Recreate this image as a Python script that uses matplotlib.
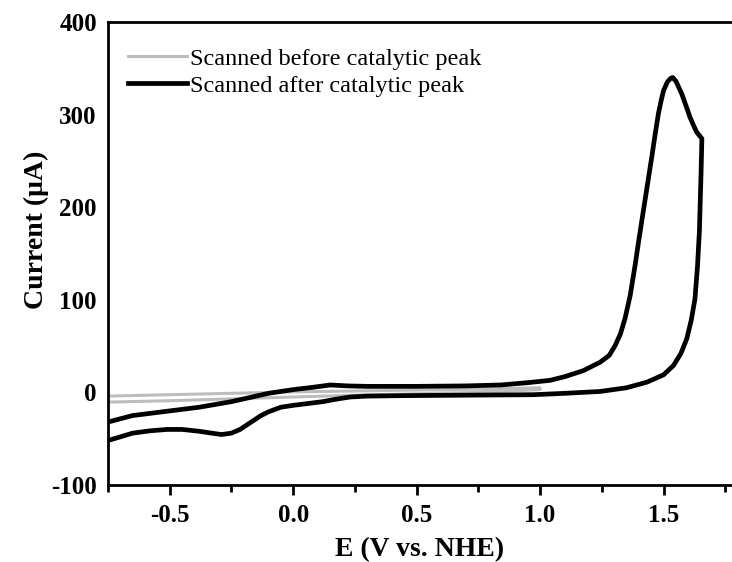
import matplotlib.pyplot as plt
from matplotlib.ticker import MultipleLocator

# Cyclic voltammogram scanned before the catalytic peak (grey)
before_fwd_E = [-0.75, -0.5, -0.25, 0.0, 0.25, 0.5, 0.75, 1.0]
before_fwd_I = [-4, -2.5, -1, 0.5, 1.5, 2.5, 3.5, 5]
before_rev_E = [1.0, 0.75, 0.5, 0.25, 0.0, -0.25, -0.5, -0.75]
before_rev_I = [3, 0, -1.5, -3, -5, -7, -9, -10.5]

# Cyclic voltammogram scanned after the catalytic peak (black)
after_fwd_E = [-0.75, -0.65, -0.5, -0.38, -0.25, -0.1, 0.0, 0.08, 0.15, 0.22,
               0.3, 0.5, 0.7, 0.84, 0.95, 1.04, 1.1, 1.175, 1.243, 1.28,
               1.304, 1.325, 1.344, 1.365, 1.385, 1.40, 1.418, 1.435, 1.452,
               1.466, 1.479, 1.49, 1.50, 1.515, 1.528, 1.537, 1.55, 1.562,
               1.574, 1.59, 1.607, 1.62, 1.634, 1.655]
after_fwd_I = [-32, -25, -20, -16, -10, -1, 3, 5.5, 8, 7,
               6.5, 6.5, 7, 8, 10.5, 13, 17, 23.5, 32.6, 40,
               50.7, 63, 80, 105, 138, 165, 196, 225, 254,
               279, 301, 315, 326, 335, 339, 340, 336, 329,
               322, 310, 297, 289, 281, 274]
after_rev_E = [1.655, 1.652, 1.645, 1.637, 1.627, 1.612, 1.594, 1.57, 1.54,
               1.5, 1.432, 1.35, 1.243, 1.1, 0.973, 0.7, 0.45, 0.3, 0.23,
               0.17, 0.12, 0.06, 0.0, -0.05, -0.1, -0.13, -0.17, -0.215,
               -0.25, -0.29, -0.33, -0.38, -0.45, -0.51, -0.58, -0.65, -0.75]
after_rev_I = [274, 240, 174, 135, 101, 78, 58, 42, 29,
               19, 11, 5, 1, -1, -2.5, -3, -3.5, -4, -5,
               -7.5, -10, -12, -14, -16, -21, -25, -32, -40,
               -44, -45.5, -44, -42, -40, -40, -41.5, -44, -52]

plt.rcParams['font.family'] = 'Liberation Serif'
plt.rcParams['axes.unicode_minus'] = False

fig = plt.figure(figsize=(7.32, 5.62), dpi=100)
ax = fig.add_axes([0.1475, 0.137, 0.8525, 0.824])

ax.plot(before_fwd_E + before_rev_E, before_fwd_I + before_rev_I,
        color='#bdbdbd', lw=2.2, label='Scanned before catalytic peak')
ax.plot(after_fwd_E + after_rev_E, after_fwd_I + after_rev_I,
        color='black', lw=3.4, label='Scanned after catalytic peak')

ax.set_xlim(-0.75, 1.777)
ax.set_ylim(-100, 400)
ax.xaxis.set_minor_locator(MultipleLocator(0.25))
ax.yaxis.set_major_locator(MultipleLocator(100))
ax.set_xticks([-0.5, 0.0, 0.5, 1.0, 1.5])
ax.set_xticklabels(['-0.5', '0.0', '0.5', '1.0', '1.5'])

ax.spines['right'].set_visible(False)
for side in ['left', 'bottom', 'top']:
    ax.spines[side].set_linewidth(2.0)

ax.tick_params(axis='x', which='major', direction='out', length=7, width=2,
               pad=7, labelsize=18)
ax.tick_params(axis='x', which='minor', direction='out', length=5, width=2)
ax.tick_params(axis='y', which='both', length=0, pad=8, labelsize=18)
for lab in ax.get_xticklabels() + ax.get_yticklabels():
    lab.set_fontweight('bold')

ax.set_xlabel('E (V vs. NHE)', fontsize=20, fontweight='bold')
ax.set_ylabel('Current (μA)', fontsize=20, fontweight='bold')
ax.xaxis.set_label_coords(0.5, -0.112)
ax.yaxis.set_label_coords(-0.094, 0.55)

ax.legend(loc='upper left', frameon=False, fontsize=17.5, handlelength=2.4,
          handletextpad=0.15, labelspacing=0.2, borderaxespad=0.0,
          bbox_to_anchor=(0.017, 0.965))

fig.savefig('out.png', dpi=100)
